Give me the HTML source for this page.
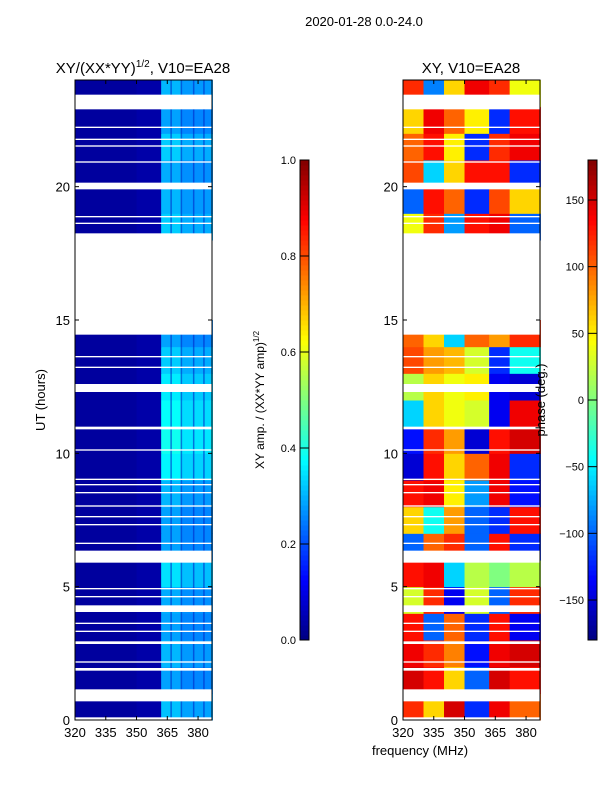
<!DOCTYPE html>
<html><head><meta charset="utf-8"><style>
body{margin:0;background:#fff;}
svg{font-family:"Liberation Sans","DejaVu Sans",sans-serif;}
</style></head><body>
<svg id="fig" width="600" height="800" xmlns="http://www.w3.org/2000/svg">
<text x="364" y="26" font-size="13" text-anchor="middle">2020-01-28 0.0-24.0</text>
<text x="143" y="73" font-size="15" text-anchor="middle">XY/(XX*YY)<tspan font-size="10" dy="-6">1/2</tspan><tspan dy="6">, V10=EA28</tspan></text>
<text x="471" y="73" font-size="15" text-anchor="middle">XY, V10=EA28</text>
<g id="left"></g>
<g id="right"></g>
<g id="axes"></g>
<text transform="translate(45,400) rotate(-90)" font-size="13" text-anchor="middle">UT (hours)</text>
<text x="420" y="755" font-size="13" text-anchor="middle">frequency (MHz)</text>
<text transform="translate(264,400) rotate(-90)" font-size="12" text-anchor="middle">XY amp. / (XX*YY amp)<tspan font-size="8" dy="-5">1/2</tspan></text>
<text transform="translate(545,400) rotate(-90)" font-size="13" text-anchor="middle">phase (deg.)</text>
</svg>
<script>
const bandEdges=[320,330,340,350,362,372,387];
const phase=[
[120,60,150,-120,140,100],[150,130,60,-100,150,130],[140,120,90,-130,140,150],[130,-100,100,-120,130,-140],
[30,120,-140,30,-100,120],[130,140,-60,20,0,20],[-100,100,120,-100,130,-120],[60,-40,80,-100,-120,130],
[130,140,50,-80,140,-130],[-150,130,60,100,140,-120],[-130,120,80,-150,130,150],[-60,60,40,30,-140,140],
[20,60,40,50,-140,-150],[110,80,70,30,-120,-40],[100,60,-60,100,80,120],[null,null,null,null,null,null],
[null,null,null,null,null,null],[null,null,null,null,null,null],[40,120,-80,130,140,-100],[-100,130,100,-120,110,60],
[110,-60,60,130,130,-120],[100,130,50,-120,120,140],[60,140,100,50,-120,130],[120,-90,60,140,120,40]];
const ampLow=[0.03,0.03,0.03,0.04];
const ampHigh=[0.3,0.27,0.29,0.27,0.28,0.33,0.27,0.27,0.29,0.35,0.37,0.36,0.34,0.31,0.27,0,0,0,0.31,0.29,0.28,0.31,0.27,0.29];
const flagged=[[0,0.1],[0.7,1.15],[1.85,1.95],[2.15,2.2],[2.85,2.95],[3.3,3.35],[3.6,3.65],[4.05,4.3],[4.6,4.65],[4.9,4.95],
[5.9,6.35],[6.6,6.65],[7.3,7.35],[7.6,7.65],[8.0,8.05],[8.5,8.55],[8.8,8.85],[9.0,9.05],[10.1,10.15],[10.9,11.0],
[12.3,12.6],[13.2,13.25],[13.6,13.65],[14.45,18.25],[18.6,18.65],[18.85,18.9],[19.9,20.15],[20.9,20.95],[21.5,21.55],
[21.75,21.8],[22.2,22.25],[22.9,23.45]];
const xTicks=[320,335,350,365,380];
const yTicks=[0,5,10,15,20];
const ampTicks=[0,0.2,0.4,0.6,0.8,1.0];
const phaseTicks=[-150,-100,-50,0,50,100,150];

const NS="http://www.w3.org/2000/svg";
function jet(v){v=Math.max(0,Math.min(1,v));
 const r=Math.max(0,Math.min(1,1.5-Math.abs(4*v-3))),g=Math.max(0,Math.min(1,1.5-Math.abs(4*v-2))),b=Math.max(0,Math.min(1,1.5-Math.abs(4*v-1)));
 return `rgb(${Math.round(r*255)},${Math.round(g*255)},${Math.round(b*255)})`;}
function el(tag,a,p){const e=document.createElementNS(NS,tag);for(const k in a)e.setAttribute(k,a[k]);p.appendChild(e);return e;}
const panels=[{x0:75,g:document.getElementById('left'),kind:'amp'},{x0:403,g:document.getElementById('right'),kind:'phase'}];
const yTop=80,yBot=720,W=137;
const xs=(f,x0)=>x0+(f-320)*(W/(386.8-320));
const ys=h=>yBot-(h/24)*(yBot-yTop);
const axes=document.getElementById('axes');
panels.forEach(P=>{
 for(let h=0;h<24;h++){
  for(let b=0;b<6;b++){
   let v;
   if(P.kind==='amp'){ if(ampHigh[h]===0)continue; v=b<4?ampLow[b]:ampHigh[h]*(b===4?1.05:0.95);}
   else{ if(phase[h][b]===null)continue; v=(phase[h][b]+180)/360;}
   const r=el('rect',{x:xs(bandEdges[b],P.x0),y:ys(h+1),width:xs(bandEdges[b+1],P.x0)-xs(bandEdges[b],P.x0)+0.5,height:ys(h)-ys(h+1)+0.5,fill:jet(v)},P.g);
   
   
  }
 }
 if(P.kind==='amp'){[366.5,371.5,377.5,382.5].forEach(f=>{el('rect',{x:xs(f,P.x0),y:yTop,width:1.5,height:yBot-yTop,fill:'rgba(0,40,200,0.6)'},P.g);});}
 flagged.forEach(fl=>{const r=el('rect',{x:P.x0,y:ys(fl[1]),width:W,height:ys(fl[0])-ys(fl[1]),fill:'#fff'},P.g);
  
  });
 el('rect',{x:P.x0,y:yTop,width:W,height:yBot-yTop,fill:'none',stroke:'#000','stroke-width':1},axes);
 xTicks.forEach(t=>{const x=xs(t,P.x0);el('line',{x1:x,x2:x,y1:yBot,y2:yBot-4,stroke:'#000'},axes);el('line',{x1:x,x2:x,y1:yTop,y2:yTop+4,stroke:'#000'},axes);
  const tx=el('text',{x:x,y:yBot+17,'font-size':13,'text-anchor':'middle'},axes);tx.textContent=t;
  
  });
 yTicks.forEach(t=>{const y=ys(t);el('line',{x1:P.x0,x2:P.x0+4,y1:y,y2:y,stroke:'#000'},axes);el('line',{x1:P.x0+W,x2:P.x0+W-4,y1:y,y2:y,stroke:'#000'},axes);
  const tx=el('text',{x:P.x0-5,y:y+5,'font-size':13,'text-anchor':'end'},axes);tx.textContent=t;
  
  });
});
[{x:300,min:0,max:1,ticks:ampTicks,fmt:t=>t.toFixed(1),name:'amp-colorbar'},{x:588,min:-180,max:180,ticks:phaseTicks,fmt:t=>String(t).replace('-','\u2212'),name:'phase-colorbar'}].forEach(C=>{
 const g=el('g',{},axes);
 
 
 const c0=160,c1=640;
 for(let i=0;i<96;i++){el('rect',{x:C.x,y:c1-(i+1)*5,width:9,height:5.5,fill:jet((i+0.5)/96)},g);}
 el('rect',{x:C.x,y:c0,width:9,height:c1-c0,fill:'none',stroke:'#000'},g);
 C.ticks.forEach(t=>{const y=c1-(t-C.min)/(C.max-C.min)*(c1-c0);
  el('line',{x1:C.x,x2:C.x+9,y1:y,y2:y,stroke:'#000'},g);
  const tx=el('text',{x:C.x-4,y:y+4,'font-size':11,'text-anchor':'end'},g);tx.textContent=C.fmt(t);
  
  });
});
</script>
</body></html>
